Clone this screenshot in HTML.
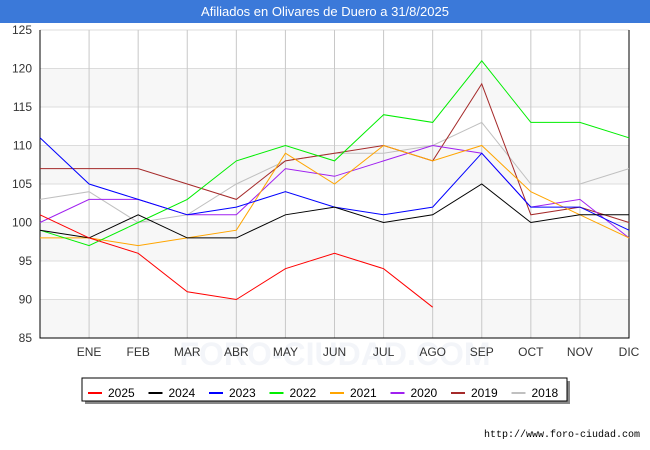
<!DOCTYPE html>
<html><head><meta charset="utf-8"><style>
body{margin:0;background:#fff;font-family:"Liberation Sans",sans-serif}
#wrap{position:relative;width:650px;height:450px;overflow:hidden}
#title{position:absolute;left:0;top:0;width:650px;height:23px;background:#3b79d9;color:#fff;font-size:13px;line-height:23px;text-align:center}
</style></head><body>
<div id="wrap">
<div id="title">Afiliados en Olivares de Duero a 31/8/2025</div>
<svg id="svg" width="650" height="450" style="position:absolute;left:0;top:0"></svg>
</div>
<script>
const months=["","ENE","FEB","MAR","ABR","MAY","JUN","JUL","AGO","SEP","OCT","NOV","DIC"];
const yTicks=[85,90,95,100,105,110,115,120,125];
const years=["2025","2024","2023","2022","2021","2020","2019","2018"];
const colors=["#ff0000","#000000","#0000ff","#00ee00","#ffa500","#a020f0","#a52a2a","#c0c0c0"];
const s2025=[101,98,96,91,90,94,96,94,89];
const s2024=[99,98,101,98,98,101,102,100,101,105,100,101,101];
const s2023=[111,105,103,101,102,104,102,101,102,109,102,102,99];
const s2022=[99,97,100,103,108,110,108,114,113,121,113,113,111];
const s2021=[98,98,97,98,99,109,105,110,108,110,104,101,98];
const s2020=[100,103,103,101,101,107,106,108,110,109,102,103,98];
const s2019=[107,107,107,105,103,108,109,110,108,118,101,102,100];
const s2018=[103,104,100,101,105,108,109,109,110,113,105,105,107];
const series=[s2025,s2024,s2023,s2022,s2021,s2020,s2019,s2018];
const NS="http://www.w3.org/2000/svg",svg=document.getElementById('svg');
const L=40,R=629,T=30,B=338;
const x=i=>L+(R-L)*i/12, y=v=>B-(v-85)*(B-T)/40;
function el(t,a,p){const e=document.createElementNS(NS,t);for(const k in a)e.setAttribute(k,a[k]);(p||svg).appendChild(e);return e;}
for(let k=0;k<yTicks.length-1;k++){if(k%2==0){const r=el('rect',{x:L,y:y(yTicks[k+1]),width:R-L,height:y(yTicks[k])-y(yTicks[k+1]),fill:'#f7f7f7'});}}
const wm=el('text',{x:335,y:365,'text-anchor':'middle','font-size':32,fill:'#f3f5f9','font-weight':'bold'});wm.textContent='FORO-CIUDAD.COM';
yTicks.forEach(v=>{const g=el('line',{x1:L,x2:R,y1:y(v),y2:y(v),stroke:'#dcdcdc'});
const t=el('text',{x:L-8,y:y(v)+4,'text-anchor':'end','font-size':12,fill:'#333'});t.textContent=v;});
months.forEach((m,i)=>{if(i>0){const g=el('line',{x1:x(i),x2:x(i),y1:T,y2:B,stroke:'#c8c8c8'});}
const t=el('text',{x:x(i),y:B+18,'text-anchor':'middle','font-size':12,fill:'#333'});t.textContent=m;});
const ax=el('path',{d:`M${L},${T}V${B}H${R}V${T}`,fill:'none',stroke:'#000'});
for(let s=series.length-1;s>=0;s--){const d=series[s].map((v,i)=>(i?'L':'M')+x(i)+','+y(v)).join('');
const p=el('path',{d,fill:'none',stroke:colors[s],'stroke-width':1});}
el('rect',{x:85,y:381,width:485,height:23,fill:'#888'});
const lb=el('rect',{x:82,y:378,width:485,height:23,fill:'#fff',stroke:'#000'});
years.forEach((yr,i)=>{const lx=88+i*60.5;const l=el('line',{x1:lx,x2:lx+14,y1:393,y2:393,stroke:colors[i],'stroke-width':2});
const t=el('text',{x:lx+20,y:397,'font-size':12,fill:'#000'});t.textContent=yr;});
const u=el('text',{x:640,y:437,'text-anchor':'end','font-size':10,fill:'#000','font-family':'Liberation Mono'});u.textContent='http://www.foro-ciudad.com';
</script></body></html>
